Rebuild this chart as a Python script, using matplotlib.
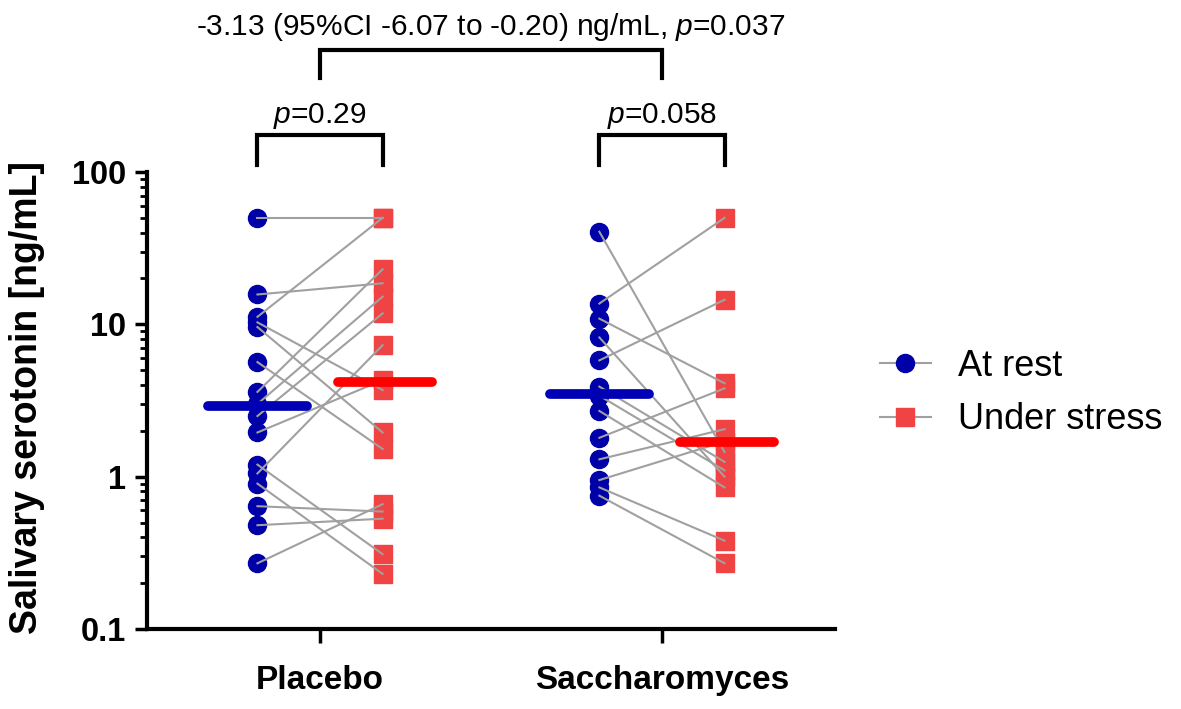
import matplotlib
matplotlib.use("Agg")
import matplotlib.pyplot as plt
from matplotlib.lines import Line2D
from matplotlib.ticker import LogLocator, NullFormatter, FixedLocator

plt.rcParams['font.family'] = ['Liberation Sans', 'DejaVu Sans']
plt.rcParams['mathtext.fontset'] = 'custom'
plt.rcParams['mathtext.rm'] = 'Liberation Sans'
plt.rcParams['mathtext.it'] = 'Liberation Sans:italic'

# ---------------- data ----------------
groups = ["Placebo", "Saccharomyces"]
placebo_rest = [50, 15.7, 11.2, 10.3, 9.6, 5.65, 3.6, 3.0, 2.5, 1.95, 1.2, 1.05, 0.9, 0.64, 0.48, 0.27]
placebo_stress = [50, 18.6, 50, 3.7, 1.95, 1.52, 23, 15.2, 11.8, 4.3, 0.31, 7.3, 0.23, 0.59, 0.53, 0.66]
sacch_rest = [40.5, 13.7, 10.9, 8.2, 5.8, 3.9, 3.4, 2.7, 1.8, 1.3, 0.95, 0.85, 0.75]
sacch_stress = [1.45, 50, 4.1, 1.0, 14.5, 1.25, 1.1, 0.85, 3.8, 2.05, 1.7, 0.38, 0.27]
median_rest = [2.9, 3.5]
median_stress = [4.2, 1.68]
series_labels = ["At rest", "Under stress"]
p_within = ["0.29", "0.058"]
between_text = "-3.13 (95%CI -6.07 to -0.20) ng/mL, "
p_between = "0.037"
yticks = [0.1, 1, 10, 100]
ytick_labels = ["0.1", "1", "10", "100"]

# ---------------- style ----------------
blue = "#0000A8"
blue_med = "#0000B4"
red = "#F04444"
red_med = "#FF0000"
gray = "#A0A0A0"
off = 0.183
med_half = 0.145

fig = plt.figure(figsize=(11.81, 7.09), dpi=100)
ax = fig.add_axes([147/1181, 1-629/709, 688/1181, 457/709])

rest_sets = [placebo_rest, sacch_rest]
stress_sets = [placebo_stress, sacch_stress]
centers = [1, 2]

for c, r, s, mr, ms in zip(centers, rest_sets, stress_sets, median_rest, median_stress):
    xr, xs = c - off, c + off
    ax.plot([xr]*len(r), r, linestyle='none', marker='o', ms=13, mfc=blue, mec=blue, zorder=2, clip_on=False)
    ax.plot([xs]*len(s), s, linestyle='none', marker='s', ms=13, mfc=red, mec=red, zorder=2, clip_on=False)
    for a, b in zip(r, s):
        ax.plot([xr, xs], [a, b], color=gray, lw=1.5, zorder=3)
    ax.plot([xr - med_half, xr + med_half], [mr, mr], color=blue_med, lw=7,
            solid_capstyle='round', zorder=4)
    ax.plot([xs - med_half + 0.015, xs + med_half], [ms, ms], color=red_med, lw=7,
            solid_capstyle='round', zorder=4)

ax.set_yscale('log')
ax.set_ylim(0.1, 100)
ax.set_xlim(0.494, 2.506)
ax.yaxis.set_major_locator(FixedLocator(yticks))
ax.set_yticklabels(ytick_labels, fontweight='bold')
ax.yaxis.set_minor_locator(LogLocator(base=10, subs=range(2, 10)))
ax.yaxis.set_minor_formatter(NullFormatter())
ax.set_xticks(centers)
ax.set_xticklabels(groups, fontweight='bold')

for sp in ['top', 'right']:
    ax.spines[sp].set_visible(False)
for sp in ['left', 'bottom']:
    ax.spines[sp].set_linewidth(3)
ax.tick_params(axis='y', which='major', direction='out', length=9, width=2.5, labelsize=23.5, pad=6)
ax.tick_params(axis='y', which='minor', direction='out', length=5, width=2)
ax.tick_params(axis='x', which='major', direction='out', length=10, width=2.5, labelsize=24, pad=16)

fig.text(27/1181, 1-398/709, "Salivary serotonin [ng/mL]", rotation=90, ha='center', va='center',
         fontsize=27, fontweight='bold')

# ---------------- brackets and annotations ----------------
tr = ax.get_xaxis_transform()
for c, p in zip(centers, p_within):
    xr, xs = c - off, c + off
    ax.plot([xr, xr, xs, xs], [1.015, 1.081, 1.081, 1.015], color='black', lw=3,
            transform=tr, clip_on=False, solid_joinstyle='miter')
    ax.text(c, 1.107, r'$\mathit{p}$=' + p, transform=tr, ha='center', va='baseline', fontsize=21.5)

ax.plot([centers[0], centers[0], centers[1], centers[1]], [1.206, 1.267, 1.267, 1.206],
        color='black', lw=3, transform=tr, clip_on=False, solid_joinstyle='miter')
ax.text((centers[0] + centers[1]) / 2, 1.300, between_text + r'$\mathit{p}$=' + p_between,
        transform=tr, ha='center', va='baseline', fontsize=21.5)

# ---------------- legend ----------------
handles = [
    Line2D([], [], color=gray, lw=1.5, marker='o', ms=13, mfc=blue, mec=blue),
    Line2D([], [], color=gray, lw=1.5, marker='s', ms=13, mfc=red, mec=red),
]
fig.legend(handles, series_labels, loc='center left', bbox_to_anchor=(880/1181, 1-393/709),
           frameon=False, fontsize=26, handlelength=1.4, handletextpad=0.75,
           labelspacing=0.52, borderpad=0, borderaxespad=0)

fig.savefig("out.png", dpi=100)
